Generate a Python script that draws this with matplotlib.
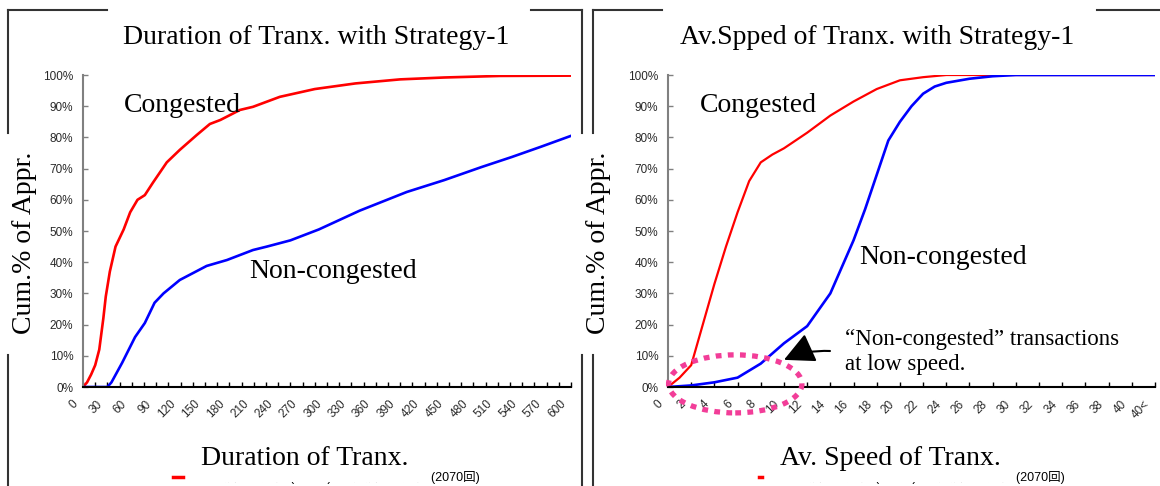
import matplotlib
matplotlib.use("Agg")
import matplotlib.pyplot as plt
from matplotlib.lines import Line2D
from matplotlib.patches import Ellipse, Rectangle
from matplotlib.transforms import ScaledTranslation

# --- data ---
dur_red_x = [0, 5, 10, 15, 20, 25, 28, 33, 40, 50, 58, 67, 76, 86, 103, 119, 140, 156, 169,
             193, 209, 242, 285, 335, 390, 444, 513, 600]
dur_red_y = [0, 1.5, 4, 7, 12, 22, 29, 37, 45, 50.5, 56, 60, 61.5, 65.5, 72, 76, 80.8, 84.3, 85.6,
             88.8, 89.8, 93, 95.5, 97.3, 98.6, 99.2, 99.7, 99.8]
dur_blue_x = [0, 30, 35, 48, 64, 76, 88, 99, 119, 152, 177, 209, 226, 255, 290, 340, 398, 444,
              490, 527, 563, 600]
dur_blue_y = [0, 0, 1.5, 7.7, 16, 20.5, 27, 30, 34.3, 38.8, 40.7, 43.9, 45, 47, 50.5, 56.5, 62.5,
              66.3, 70.5, 73.7, 77, 80.5]
dur_ticks = list(range(0, 601, 15))

spd_red_x = [0, 1, 2, 3, 4, 5, 6, 7, 8, 9, 10, 12, 14, 16, 18, 20, 22, 24, 26, 42]
spd_red_y = [0, 3, 7, 20, 33, 45, 56, 66, 72, 74.5, 76.5, 81.5, 87, 91.5, 95.5, 98.3, 99.3, 100, 100, 100]
spd_blue_x = [0, 2, 4, 6, 8, 10, 12, 14, 16, 17, 18, 19, 20, 21, 22, 23, 24, 26, 28, 30, 42]
spd_blue_y = [0, 0.5, 1.5, 3, 7.5, 14, 19.5, 30, 47, 57, 68, 79, 85, 90, 94, 96.3, 97.5, 98.8,
              99.6, 100, 100]
spd_ticks = list(range(0, 43, 2))
spd_labels = [str(v) for v in range(0, 41, 2)] + ["40<"]

pct_ticks = list(range(0, 101, 10))

W, H = 1160, 486
SERIF = "Liberation Serif"
SANS = "Liberation Sans"


def fx(x):
    return x / W


def fy(y):
    return 1 - y / H


fig = plt.figure(figsize=(11.6, 4.86), dpi=100)


def make_axes(x0, x1):
    ax = fig.add_axes([fx(x0), fy(387), fx(x1) - fx(x0), (387 - 75) / H])
    ax.set_ylim(0, 100)
    ax.set_yticks(pct_ticks)
    ax.set_yticklabels([f"{v}%" for v in pct_ticks])
    for s in ["top", "right"]:
        ax.spines[s].set_visible(False)
    ax.spines["left"].set_color("#808080")
    ax.spines["left"].set_linewidth(1.5)
    ax.spines["bottom"].set_color("black")
    ax.spines["bottom"].set_linewidth(1.5)
    ax.tick_params(axis="y", direction="in", length=3.5, width=1, color="#808080",
                   labelsize=8.5, labelcolor="#2a2a2a", pad=7)
    ax.tick_params(axis="x", direction="in", length=3.5, width=1, color="black",
                   labelsize=8.5, labelcolor="#2a2a2a", pad=11)
    for lab in ax.get_yticklabels():
        lab.set_family(SANS)
    return ax


def rotate_labels(ax):
    off = ScaledTranslation(-0.07, 0, fig.dpi_scale_trans)
    for lab in ax.get_xticklabels():
        lab.set_rotation(45)
        lab.set_ha("right")
        lab.set_va("center")
        lab.set_rotation_mode("anchor")
        lab.set_family(SANS)
        lab.set_transform(lab.get_transform() + off)


# left panel
ax1 = make_axes(83, 571)
ax1.plot(dur_red_x, dur_red_y, color="#ff0000", lw=1.9)
ax1.plot(dur_blue_x, dur_blue_y, color="#0000ff", lw=1.9)
ax1.set_xlim(0, 600)
ax1.set_xticks(dur_ticks)
ax1.set_xticklabels([str(v) if v % 30 == 0 else "" for v in dur_ticks])
rotate_labels(ax1)

# right panel
ax2 = make_axes(668, 1155)
ax2.plot(spd_red_x, spd_red_y, color="#ff0000", lw=1.6)
ax2.plot(spd_blue_x, spd_blue_y, color="#0000ff", lw=1.9)
ax2.set_xlim(0, 42)
ax2.set_xticks(spd_ticks)
ax2.set_xticklabels(spd_labels)
rotate_labels(ax2)

ell = Ellipse((5.8, 1.0), 11.5, 18.6, fill=False, edgecolor="#f23d98", lw=3.8,
              linestyle=(0, (1.1, 1.2)), clip_on=False, zorder=5)
ax2.add_patch(ell)

ax2.annotate("", xy=(10.0, 8.7), xycoords="data", xytext=(830, H - 351),
             textcoords="figure pixels",
             arrowprops=dict(arrowstyle="-|>,head_width=0.55,head_length=1.1", color="black",
                             lw=1.5, mutation_scale=17, connectionstyle="arc3,rad=0.12",
                             shrinkA=0, shrinkB=0))

# frame lines around each panel (broken where the titles and labels sit)
segs = [
    [(8, 10), (107, 10)], [(531, 10), (582, 10)],
    [(8, 10), (8, 133)], [(8, 355), (8, 486)],
    [(582, 10), (582, 133)], [(582, 355), (582, 486)],
    [(593, 10), (662, 10)], [(1097, 10), (1160, 10)],
    [(593, 10), (593, 133)], [(593, 355), (593, 486)],
]
for (xa, ya), (xb, yb) in segs:
    fig.lines.append(Line2D([fx(xa), fx(xb)], [fy(ya), fy(yb)], transform=fig.transFigure,
                            color="#333333", lw=1.5))

# titles and labels
fig.text(fx(316), fy(37), "Duration of Tranx. with Strategy-1", family=SERIF, fontsize=20,
         ha="center", va="center")
fig.text(fx(877), fy(37), "Av.Spped of Tranx. with Strategy-1", family=SERIF, fontsize=20,
         ha="center", va="center")
fig.text(fx(25), fy(243), "Cum.% of Appr.", family=SERIF, fontsize=20, rotation=90,
         ha="center", va="center")
fig.text(fx(599), fy(243), "Cum.% of Appr.", family=SERIF, fontsize=20, rotation=90,
         ha="center", va="center")
fig.text(fx(182), fy(105), "Congested", family=SERIF, fontsize=20, ha="center", va="center")
fig.text(fx(333), fy(272), "Non-congested", family=SERIF, fontsize=20, ha="center", va="center")
fig.text(fx(758), fy(105), "Congested", family=SERIF, fontsize=20, ha="center", va="center")
fig.text(fx(943), fy(257), "Non-congested", family=SERIF, fontsize=20, ha="center", va="center")
fig.text(fx(845), fy(352), "\u201cNon-congested\u201d transactions\nat low speed.", family=SERIF,
         fontsize=16.5, ha="left", va="center", linespacing=1.2)

# legend remnants, mostly hidden behind the x labels
leg_fam = [SANS, "Noto Sans CJK JP"]
fig.lines.append(Line2D([fx(173), fx(183)], [fy(477), fy(477)], transform=fig.transFigure,
                        color="#ff0000", lw=2.5))
fig.text(fx(480), fy(477), "渋滞時旅行 (330回)      非渋滞時旅行 (2070回)", family=leg_fam,
         fontsize=9, ha="right", va="center", zorder=1)
fig.lines.append(Line2D([fx(759), fx(762)], [fy(477), fy(477)], transform=fig.transFigure,
                        color="#ff0000", lw=2.5))
fig.text(fx(1065), fy(477), "渋滞時旅行 (330回)      非渋滞時旅行 (2070回)", family=leg_fam,
         fontsize=9, ha="right", va="center", zorder=1)
for xa, xb in [(196, 428), (770, 1014)]:
    fig.patches.append(Rectangle((fx(xa), fy(482)), fx(xb) - fx(xa), fy(438) - fy(482),
                                 transform=fig.transFigure, facecolor="white",
                                 edgecolor="none", zorder=2))
fig.text(fx(305), fy(458), "Duration of Tranx.", family=SERIF, fontsize=20,
         ha="center", va="center", zorder=3)
fig.text(fx(890), fy(458), "Av. Speed of Tranx.", family=SERIF, fontsize=20,
         ha="center", va="center", zorder=3)

fig.savefig("out.png", dpi=100)
